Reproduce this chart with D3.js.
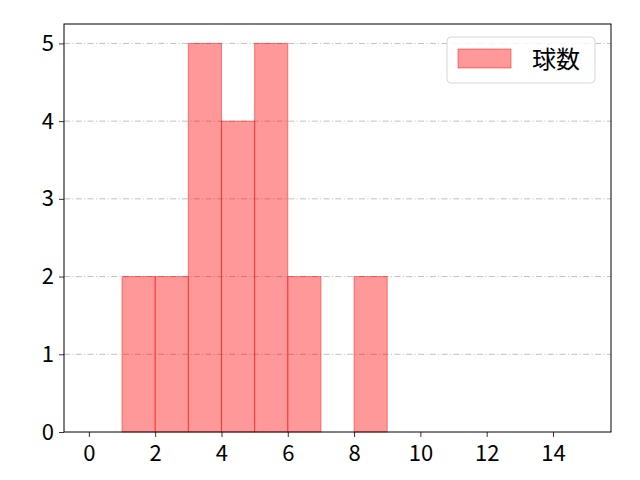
<!DOCTYPE html>
<html>
<head>
<meta charset="utf-8">
<script src="https://cdn.jsdelivr.net/npm/d3@7"></script>
<style>
  body { margin: 0; background: #fff; }
  svg { display: block; font-family: "Noto Sans CJK JP", "Noto Sans", sans-serif; }
</style>
</head>
<body>
<svg width="640" height="480"></svg>
<script>
// histogram bins (left edge, count)
var binStarts = [0, 1, 2, 3, 4, 5, 6, 7, 8, 9, 10, 11, 12, 13, 14];
var counts    = [0, 2, 2, 5, 4, 5, 2, 0, 2, 0, 0, 0, 0, 0, 0];
var xTicks = [0, 2, 4, 6, 8, 10, 12, 14];
var yTicks = [0, 1, 2, 3, 4, 5];
var seriesName = '球数';

var svg = d3.select('svg');
var plotLeft = 64, plotRight = 611, plotTop = 24, plotBottom = 432;

var x = d3.scaleLinear().domain([-0.75, 15.75]).range([plotLeft, plotRight]);
var y = d3.scaleLinear().domain([0, 5.25]).range([plotBottom, plotTop]);

// grid
svg.append('g').selectAll('line')
    .data(yTicks.slice(1))
    .enter().append('line')
    .attr('x1', plotLeft).attr('x2', plotRight)
    .attr('y1', function(d) { return y(d); })
    .attr('y2', function(d) { return y(d); })
    .attr('stroke', '#b0b0b0')
    .attr('stroke-width', 0.8)
    .attr('stroke-dasharray', '6,2.4,1,2.4');

// bars
svg.append('g').selectAll('rect')
    .data(binStarts)
    .enter().append('rect')
    .attr('x', function(d) { return x(d); })
    .attr('width', function(d) { return x(d + 1) - x(d); })
    .attr('y', function(d, i) { return y(counts[i]); })
    .attr('height', function(d, i) { return y(0) - y(counts[i]); })
    .style('fill', 'rgba(255,0,0,0.4)')
    .style('stroke', 'rgba(255,0,0,0.45)')
    .style('stroke-width', 1);

// axes
var xAxis = svg.append('g')
    .attr('transform', 'translate(0,' + plotBottom + ')')
    .call(d3.axisBottom(x).tickValues(xTicks).tickSize(5).tickPadding(8).tickFormat(d3.format('d')));
var yAxis = svg.append('g')
    .attr('transform', 'translate(' + plotLeft + ',0)')
    .call(d3.axisLeft(y).tickValues(yTicks).tickSize(5).tickPadding(5).tickFormat(d3.format('d')));
[xAxis, yAxis].forEach(function(a) {
    a.select('.domain').remove();
    a.selectAll('line').attr('stroke', '#000').attr('stroke-width', 0.8);
    a.selectAll('text').attr('fill', '#000').style('font-size', '22px')
        .style('font-family', '"Noto Sans CJK JP", sans-serif');
});

// frame
svg.append('rect')
    .attr('x', plotLeft).attr('y', plotTop)
    .attr('width', plotRight - plotLeft).attr('height', plotBottom - plotTop)
    .style('fill', 'none').style('stroke', '#000').style('stroke-width', 1);

// legend
var lg = svg.append('g');
lg.append('rect')
    .attr('x', 447).attr('y', 37).attr('width', 148).attr('height', 46)
    .attr('rx', 4)
    .style('fill', 'rgba(255,255,255,0.8)').style('stroke', '#d6d6d6').style('stroke-width', 1);
lg.append('rect')
    .attr('x', 458).attr('y', 49).attr('width', 53).attr('height', 19)
    .style('fill', 'rgba(255,0,0,0.4)').style('stroke', 'rgba(255,0,0,0.45)');
lg.append('text')
    .attr('x', 532).attr('y', 68)
    .style('font-size', '24px')
    .text(seriesName);
</script>
</body>
</html>
